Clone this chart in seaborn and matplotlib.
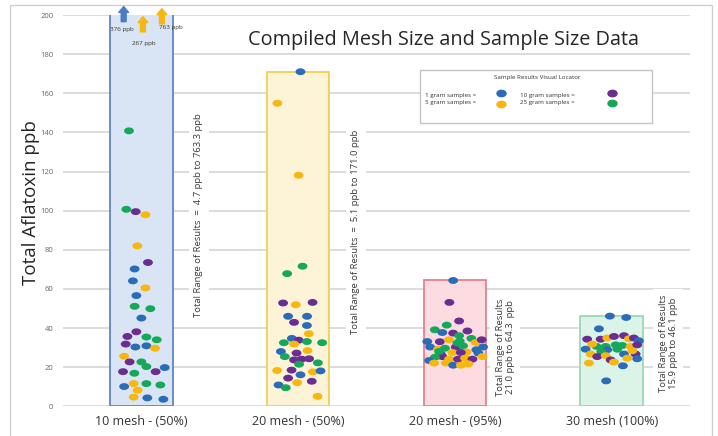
import numpy as np
import pandas as pd
import matplotlib
matplotlib.use("Agg")
import matplotlib.pyplot as plt
import seaborn as sns
from matplotlib.path import Path
from matplotlib.patches import Rectangle
from matplotlib.lines import Line2D

# ---------------- data ----------------
categories = ["10 mesh - (50%)", "20 mesh - (50%)", "20 mesh - (95%)", "30 mesh (100%)"]
range_min = [4.7, 5.1, 21.0, 15.9]
range_max = [763.3, 171.0, 64.3, 46.1]

# sample sizes (grams), jitter offsets (category units), values (ppb)
g1_size = [25, 25, 10, 5, 5, 10, 1, 1, 5, 1, 25, 25, 1, 10, 10, 25, 25, 10, 1, 1, 5, 5,
           10, 25, 25, 1, 10, 10, 25, 1, 5, 25, 25, 5, 5, 1, 1]
g1_off = [-0.079, -0.096, -0.036, 0.026, -0.026, 0.042, -0.043, -0.054, 0.026, -0.032,
          -0.043, 0.057, 0.0, -0.032, -0.089, 0.032, 0.098, -0.1, -0.038, 0.032, 0.087,
          -0.11, -0.075, 0.0, 0.032, 0.149, -0.117, 0.091, -0.045, -0.11, -0.049, 0.032,
          0.121, -0.024, -0.049, 0.038, 0.14]
g1_val = [140.8, 100.7, 99.5, 97.9, 82.0, 73.5, 70.2, 64.1, 60.5, 56.6, 51.1, 49.9, 45.1,
          38.1, 35.7, 35.4, 34.0, 31.8, 30.3, 30.9, 29.7, 25.6, 22.7, 22.7, 20.3, 19.8,
          17.7, 17.7, 16.9, 10.1, 11.6, 11.6, 10.9, 8.2, 4.7, 4.3, 3.6]

g2_size = [1, 5, 5, 25, 25, 10, 5, 10, 1, 1, 10, 1, 5, 1, 10, 25, 5, 25, 25, 1, 10, 5,
           25, 10, 10, 10, 25, 25, 5, 10, 5, 1, 1, 10, 5, 10, 1, 25, 5]
g2_off = [0.015, -0.132, 0.003, 0.028, -0.07, -0.096, -0.015, 0.092, -0.064, 0.057,
          -0.026, 0.056, 0.068, -0.04, 0.004, -0.091, -0.026, 0.056, 0.153, -0.11, -0.01,
          0.06, -0.085, -0.026, 0.022, 0.07, 0.006, 0.126, -0.134, -0.042, 0.094, 0.143,
          0.015, -0.064, -0.006, 0.087, -0.125, -0.079, 0.124]
g2_val = [171.0, 154.9, 118.1, 71.6, 67.8, 52.8, 51.9, 53.1, 46.0, 46.0, 42.9, 41.3, 37.1,
          34.7, 33.8, 32.5, 31.8, 33.1, 32.5, 28.0, 27.2, 28.5, 25.4, 23.7, 24.1, 24.3,
          21.5, 22.2, 18.3, 18.5, 17.6, 18.1, 16.1, 14.4, 12.1, 12.8, 10.9, 9.5, 5.1]

g3_size = [1, 10, 10, 25, 10, 25, 1, 10, 25, 25, 1, 10, 5, 25, 5, 10, 1, 5, 25, 10, 25,
           1, 1, 5, 5, 10, 1, 10, 5, 25, 1, 10, 5, 10, 1, 5, 5, 5, 1, 5, 5, 25, 25]
g3_off = [-0.011, -0.035, 0.027, -0.052, 0.08, -0.128, -0.08, -0.011, 0.027, 0.105,
          -0.176, -0.096, -0.037, 0.031, 0.133, 0.171, -0.158, -0.107, -0.063, 0.006,
          0.052, 0.137, 0.18, -0.016, 0.074, 0.038, -0.09, -0.08, -0.037, -0.127, -0.164,
          0.02, 0.065, 0.112, 0.15, 0.176, -0.133, -0.058, -0.011, 0.038, 0.086, -0.101,
          0.016]
g3_val = [64.3, 53.1, 43.6, 41.5, 38.5, 39.1, 37.7, 37.4, 36.1, 34.7, 33.1, 33.0, 34.0,
          33.3, 32.6, 34.0, 30.3, 29.2, 29.7, 30.3, 30.9, 28.9, 30.3, 27.5, 27.8, 27.5,
          26.8, 25.4, 24.1, 25.1, 23.4, 24.1, 24.6, 24.1, 27.2, 25.4, 22.1, 22.1, 21.0,
          21.0, 21.7, 28.0, 32.3]

g4_size = [1, 1, 1, 1, 1, 10, 10, 5, 10, 10, 5, 10, 1, 25, 5, 1, 25, 25, 25, 5, 10, 1,
           25, 25, 5, 10, 5, 1, 10, 5, 1, 5, 10, 5, 5]
g4_off = [-0.011, 0.093, -0.081, -0.035, 0.072, -0.156, -0.07, -0.028, 0.015, 0.079,
          0.11, 0.142, 0.174, -0.096, -0.124, -0.166, -0.038, 0.026, 0.068, 0.121, 0.163,
          -0.028, 0.036, -0.066, -0.134, -0.092, -0.038, 0.079, 0.153, 0.132, 0.163,
          -0.145, -0.006, 0.015, 0.1]
g4_val = [46.1, 45.4, 39.6, 13.0, 20.7, 34.3, 34.3, 34.9, 35.7, 36.1, 34.5, 34.9, 33.5,
          30.6, 31.8, 29.2, 30.6, 31.4, 31.1, 30.6, 31.4, 28.9, 29.2, 28.0, 26.7, 25.4,
          25.9, 26.7, 26.7, 28.4, 24.3, 22.1, 23.7, 22.6, 24.6]

# off-scale results in the 10 mesh (50%) group
offscale_vals = [376, 267, 763]
offscale_size = [1, 5, 5]

sample_sizes = [1, 5, 10, 25]
size_labels = ["1 gram samples =", "5 gram samples =", "10 gram samples =", "25 gram samples ="]

# ---------------- styling ----------------
colors = {1: "#2a6cb8", 5: "#f7b70f", 10: "#6b2d90", 25: "#15a75a"}
box_fill = ["#d9e4f4", "#fdf4d8", "#fcdce1", "#dcf3e8"]
box_edge = ["#5f86c4", "#f0cf55", "#e8808c", "#98d8ba"]
FONT = ["Open Sans", "DejaVu Sans"]

W, H = 718, 436
fig = plt.figure(figsize=(W / 100, H / 100), dpi=100)
sns.set_style("white")
plt.rcParams["font.family"] = FONT

y0_px, y200_px, xl_px, xr_px = 406.3, 15.0, 63.0, 690.0
ax = fig.add_axes([xl_px / W, 1 - y0_px / H, (xr_px - xl_px) / W, (y0_px - y200_px) / H])

# range boxes as bars
bar_df = pd.DataFrame({"cat": categories, "max": range_max})
sns.barplot(data=bar_df, x="cat", y="max", hue="cat", palette=box_fill, width=0.4,
            saturation=1, legend=False, ax=ax, zorder=2)
for p, ec in zip(ax.patches, box_edge):
    p.set_edgecolor(ec)
    p.set_linewidth(1.3)

# points
frames = []
for i, (s, o, v) in enumerate([(g1_size, g1_off, g1_val), (g2_size, g2_off, g2_val),
                               (g3_size, g3_off, g3_val), (g4_size, g4_off, g4_val)]):
    frames.append(pd.DataFrame({"pos": i + np.array(o), "val": v, "size": s}))
pts = pd.concat(frames, ignore_index=True)

t = np.linspace(0, 2 * np.pi, 60)
ellipse = Path(np.column_stack([np.cos(t), 0.7 * np.sin(t)]), closed=True)
sns.scatterplot(data=pts, x="pos", y="val", hue="size", hue_order=sample_sizes,
                palette=colors, marker=ellipse, s=50, linewidth=0, legend=False,
                ax=ax, zorder=4)

ax.set_xlim(-0.5, 3.5)
ax.set_ylim(0, 200)
ax.set_yticks(np.arange(0, 201, 20))
ax.yaxis.grid(True, color="#d6d6d6", linewidth=1.2, zorder=0)
ax.set_axisbelow(True)
for sp in ax.spines.values():
    sp.set_visible(False)
ax.tick_params(axis="y", length=0, labelsize=5.5, labelcolor="#666666", pad=7)
ax.tick_params(axis="x", length=0, labelsize=9, labelcolor="#333333", pad=6)
ax.set_xticks(range(4), categories)
ax.set_xlabel("")
ax.set_ylabel("")

# off-scale arrows
arrow_x = [-0.113, 0.010, 0.131]
arrow_tip = [204.3, 199.1, 203.2]
label_pos = [(-0.126, 192.6), (0.017, 185.6), (0.19, 193.8)]
for v, sz, ax_x, tip, lp in zip(offscale_vals, offscale_size, arrow_x, arrow_tip, label_pos):
    ax.annotate("", xy=(ax_x, tip), xytext=(ax_x, tip - 7.7),
                arrowprops=dict(arrowstyle="simple,head_length=0.6,head_width=1.0,tail_width=0.5",
                                color="#4a7cc0" if sz == 1 else colors[5], mutation_scale=7,
                                shrinkA=0, shrinkB=0),
                annotation_clip=False, zorder=6)
    ax.text(lp[0], lp[1], f"{v} ppb", fontsize=4.5, color="#333333", ha="center",
            va="center", zorder=7)

# range texts
range_txt = [
    (0.366, 97.6, f"Total Range of Results  =  {range_min[0]} ppb to {range_max[0]} ppb"),
    (1.368, 89.4, f"Total Range of Results  =  {range_min[1]} ppb to {range_max[1]} ppb"),
    (2.32, 30.4, f"Total Range of Results\n{range_min[2]} ppb to {range_max[2]}  ppb"),
    (3.36, 32.0, f"Total Range of Results\n{range_min[3]} ppb to {range_max[3]} ppb"),
]
for x, y, s in range_txt:
    ax.text(x, y, s, rotation=90, ha="center", va="center", fontsize=6.8,
            color="#3a3a3a", multialignment="center", linespacing=1.15,
            bbox=dict(facecolor="white", edgecolor="none", pad=4), zorder=3)

# title and y label
fig.text(444 / W, 1 - 40 / H, "Compiled Mesh Size and Sample Size Data", ha="center",
         va="center", fontsize=14.3, color="#262626")
fig.text(31 / W, 1 - 203 / H, "Total Aflatoxin ppb", rotation=90, ha="center",
         va="center", fontsize=13.5, color="#262626")

# legend box (manual)
fig.add_artist(Rectangle((420 / W, 1 - 123 / H), 232 / W, 53 / H, transform=fig.transFigure,
                         facecolor="white", edgecolor="#c4c4c4", linewidth=1, zorder=5))
fig.text(537 / W, 1 - 77 / H, "Sample Results Visual Locator", ha="center", va="center",
         fontsize=4.5, color="#333333", zorder=6)
leg_text_xy = [(425, 95), (425, 102.7), (520, 95), (520, 102.7)]
leg_dot_xy = [(500.7, 93), (500.7, 104.5), (611.7, 93.3), (611.7, 102.7)]
for sz, lab, (tx, ty), (dx, dy) in zip(sample_sizes, size_labels, leg_text_xy, leg_dot_xy):
    fig.text(tx / W, 1 - ty / H, lab, ha="left", va="center", fontsize=4.5,
             color="#333333", zorder=6)
    fig.add_artist(Line2D([dx / W], [1 - dy / H], marker=ellipse, markersize=6.5,
                          color=colors[sz], linestyle="none", transform=fig.transFigure,
                          zorder=6))

# outer frame
fig.add_artist(Rectangle((10 / W, -0.05), 702 / W, 1 - 5 / H + 0.05, transform=fig.transFigure,
                         fill=False, edgecolor="#cfcfcf", linewidth=1, zorder=0))

fig.savefig("out.png", dpi=100)
